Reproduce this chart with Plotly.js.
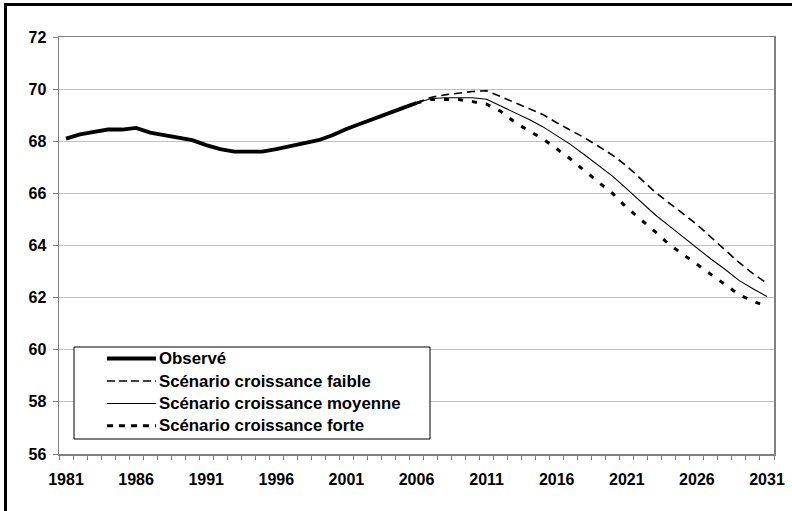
<!DOCTYPE html>
<html>
<head>
<meta charset="utf-8">
<script src="https://cdn.plot.ly/plotly-3.0.1.min.js"></script>
<style>
  html, body { margin: 0; padding: 0; background: #fff; overflow: hidden; }
  #chart { width: 792px; height: 511px; }
</style>
</head>
<body>
<div id="chart"></div>
<script>
// ---- data ----
const obsYears = [1981,1982,1983,1984,1985,1986,1987,1988,1989,1990,1991,1992,1993,1994,1995,1996,1997,1998,1999,2000,2001,2002,2003,2004,2005,2006];
const obsValues = [68.10,68.26,68.36,68.45,68.45,68.51,68.33,68.23,68.14,68.04,67.85,67.70,67.60,67.60,67.60,67.70,67.81,67.91,68.04,68.23,68.47,68.67,68.86,69.07,69.27,69.47];

const scenYears = [2006,2007,2008,2009,2010,2011,2012,2013,2014,2015,2016,2017,2018,2019,2020,2021,2022,2023,2024,2025,2026,2027,2028,2029,2030,2031];
const faible  = [69.47,69.68,69.78,69.85,69.91,69.94,69.72,69.47,69.26,69.03,68.71,68.42,68.13,67.80,67.46,67.05,66.55,66.06,65.64,65.23,64.81,64.32,63.82,63.35,62.92,62.55];
const moyenne = [69.47,69.63,69.67,69.68,69.67,69.61,69.36,69.09,68.84,68.56,68.22,67.87,67.47,67.07,66.65,66.17,65.69,65.19,64.76,64.33,63.89,63.48,63.09,62.66,62.34,62.04];
const forte   = [69.47,69.60,69.60,69.60,69.52,69.42,69.15,68.74,68.40,68.10,67.71,67.31,66.86,66.43,65.99,65.45,65.00,64.54,64.05,63.66,63.29,62.89,62.52,62.12,61.86,61.66];

const seriesNames = ["Observé","Scénario croissance faible","Scénario croissance moyenne","Scénario croissance forte"];
const xTickLabels = ["1981","1986","1991","1996","2001","2006","2011","2016","2021","2026","2031"];
const yTicks = [56,58,60,62,64,66,68,70,72];

// ---- geometry ----
const W = 792, H = 511, ML = 59, MR = 18, MT = 37, MB = 57;
const PW = W - ML - MR, PH = H - MT - MB;
const px = x => (x - ML) / PW;
const py = y => (H - MB - y) / PH;

const styles = [
  {color: '#000', width: 3.8, dash: 'solid'},
  {color: '#000', width: 1.6, dash: '8px,5px'},
  {color: '#000', width: 1.1, dash: 'solid'},
  {color: '#000', width: 3,   dash: '5px,9px'}
];
const legendDash = ['solid', '8px,4px', 'solid', '6px,6px'];

const traces = [
  {x: obsYears, y: obsValues, name: seriesNames[0]},
  {x: scenYears, y: faible, name: seriesNames[1]},
  {x: scenYears, y: moyenne, name: seriesNames[2]},
  {x: scenYears, y: forte, name: seriesNames[3]}
].map((t, i) => Object.assign(t, {
  type: 'scatter', mode: 'lines', showlegend: false,
  line: Object.assign({}, styles[i]),
  hoverinfo: 'x+y+name'
}));
const data = [traces[1], traces[2], traces[3], traces[0]];

const font = {family: 'Liberation Sans, Arial, sans-serif', color: '#000', size: 16, weight: 'bold'};

// ---- custom legend (Excel style) ----
const legRows = [358.5, 381, 403.5, 425.7];
const shapes = [
  {type: 'line', xref: 'paper', yref: 'paper', x0: px(5.5), x1: px(5.5), y0: py(3), y1: py(511), line: {color: '#000', width: 3}},
  {type: 'line', xref: 'paper', yref: 'paper', x0: px(4), x1: px(792), y0: py(4.5), y1: py(4.5), line: {color: '#000', width: 3}},
  {type: 'rect', xref: 'paper', yref: 'paper', x0: px(74), x1: px(430), y0: py(347), y1: py(439),
   fillcolor: '#fff', line: {color: '#000', width: 1}, layer: 'above'}
];
const annotations = [];
seriesNames.forEach((n, i) => {
  shapes.push({type: 'line', xref: 'paper', yref: 'paper', layer: 'above',
    x0: px(107), x1: px(156), y0: py(legRows[i]), y1: py(legRows[i]),
    line: {color: '#000', width: styles[i].width, dash: legendDash[i]}});
  annotations.push({xref: 'paper', yref: 'paper', x: px(156.5), y: py(legRows[i]),
    xanchor: 'left', yanchor: 'middle', showarrow: false, text: n,
    font: Object.assign({}, font, {size: 16.8})});
});

const layout = {
  width: W, height: H,
  margin: {l: ML, r: MR, t: MT, b: MB, pad: 0},
  paper_bgcolor: '#fff', plot_bgcolor: '#fff',
  showlegend: false,
  font: font,
  xaxis: {
    range: [1980.5, 2031.5],
    tickmode: 'array',
    tickvals: xTickLabels.map(Number),
    ticktext: xTickLabels,
    ticks: '',
    ticklabelstandoff: 10,
    showgrid: false, zeroline: false,
    showline: true, linecolor: '#808080', linewidth: 1.5, mirror: true,
    minor: {ticks: 'outside', ticklen: 4, tickcolor: '#808080', tickwidth: 1, tickmode: 'linear', tick0: 1980.5, dtick: 1, showgrid: false},
    tickfont: font, fixedrange: true
  },
  yaxis: {
    range: [56, 72],
    tickmode: 'array', tickvals: yTicks, ticktext: yTicks.map(String),
    ticks: 'outside', ticklen: 5, tickcolor: '#808080', tickwidth: 1,
    ticklabelstandoff: 3,
    showgrid: true, gridcolor: '#c0c0c0', gridwidth: 1,
    zeroline: false,
    showline: true, linecolor: '#808080', linewidth: 1.5, mirror: true,
    tickfont: font, fixedrange: true
  },
  shapes: shapes,
  annotations: annotations
};

Plotly.newPlot('chart', data, layout, {displayModeBar: false, staticPlot: true});
</script>
</body>
</html>
